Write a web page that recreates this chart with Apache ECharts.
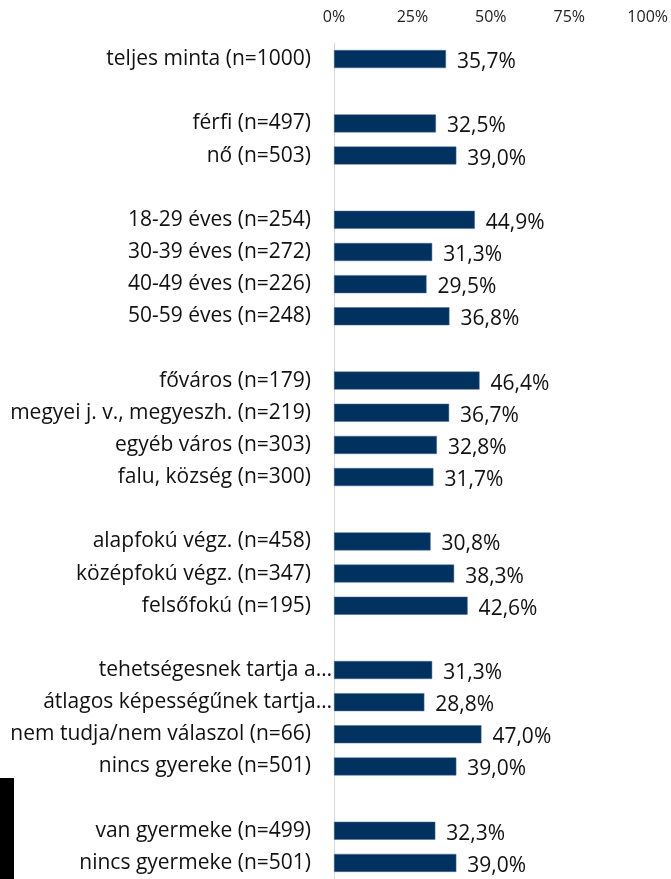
<!DOCTYPE html>
<html>
<head>
<meta charset="utf-8">
<script src="https://cdn.jsdelivr.net/npm/echarts@6/dist/echarts.min.js"></script>
<style>
  html, body { margin: 0; padding: 0; background: #fff; }
  #chart { width: 671px; height: 879px; }
</style>
</head>
<body>
<div id="chart"></div>
<script>
// kategóriák (üres sorok = csoportok közti hézag)
const categories = [
  'teljes minta (n=1000)', ' ',
  'férfi (n=497)', 'nő (n=503)', '  ',
  '18-29 éves (n=254)', '30-39 éves (n=272)', '40-49 éves (n=226)', '50-59 éves (n=248)', '   ',
  'főváros (n=179)', 'megyei j. v., megyeszh. (n=219)', 'egyéb város (n=303)', 'falu, község (n=300)', '    ',
  'alapfokú végz. (n=458)', 'középfokú végz. (n=347)', 'felsőfokú (n=195)', '     ',
  'tehetségesnek tartja a…', 'átlagos képességűnek tartja…', 'nem tudja/nem válaszol (n=66)', 'nincs gyereke (n=501)', '      ',
  'van gyermeke (n=499)', 'nincs gyermeke (n=501)'
]
const values = [
  35.7, null,
  32.5, 39.0, null,
  44.9, 31.3, 29.5, 36.8, null,
  46.4, 36.7, 32.8, 31.7, null,
  30.8, 38.3, 42.6, null,
  31.3, 28.8, 47.0, 39.0, null,
  32.3, 39.0
]
const tickLabels = ['0%', '25%', '50%', '75%', '100%']

const chart = echarts.init(document.getElementById('chart'))
const font = 'Open Sans'

chart.setOption({
  animation: false,
  grid: { left: 334, right: 20, top: 43, height: 840 },
  xAxis: {
    type: 'value',
    position: 'top',
    min: 0, max: 100, interval: 25,
    axisLine: { show: false },
    axisTick: { show: false },
    splitLine: { show: false },
    axisLabel: {
      margin: 18,
      fontFamily: font, fontSize: 16, color: '#222',
      formatter: v => tickLabels[v / 25]
    }
  },
  yAxis: {
    type: 'category',
    inverse: true,
    data: categories,
    axisLine: { show: true, lineStyle: { color: '#d9d9d9', width: 1 } },
    axisTick: { show: false },
    axisLabel: {
      margin: 23,
      fontFamily: font, fontSize: 21, color: '#111',
      formatter: v => v.endsWith('…') ? '{t|' + v + '}' : v,
      rich: { t: { fontFamily: font, fontSize: 21, color: '#111', padding: [0, -21, 0, 0] } }
    }
  },
  series: [{
    type: 'bar',
    data: values,
    barWidth: 18,
    itemStyle: { color: '#00315f', borderColor: '#4a6a90', borderWidth: 0.5 },
    label: {
      show: true,
      position: 'right',
      distance: 11,
      offset: [0, 3],
      fontFamily: font, fontSize: 21, color: '#111',
      formatter: p => p.value == null ? '' : p.value.toFixed(1).replace('.', ',') + '%'
    }
  }],
  graphic: [{
    type: 'rect',
    shape: { x: 0, y: 778, width: 14, height: 101 },
    style: { fill: '#000' }
  }]
})
</script>
</body>
</html>
